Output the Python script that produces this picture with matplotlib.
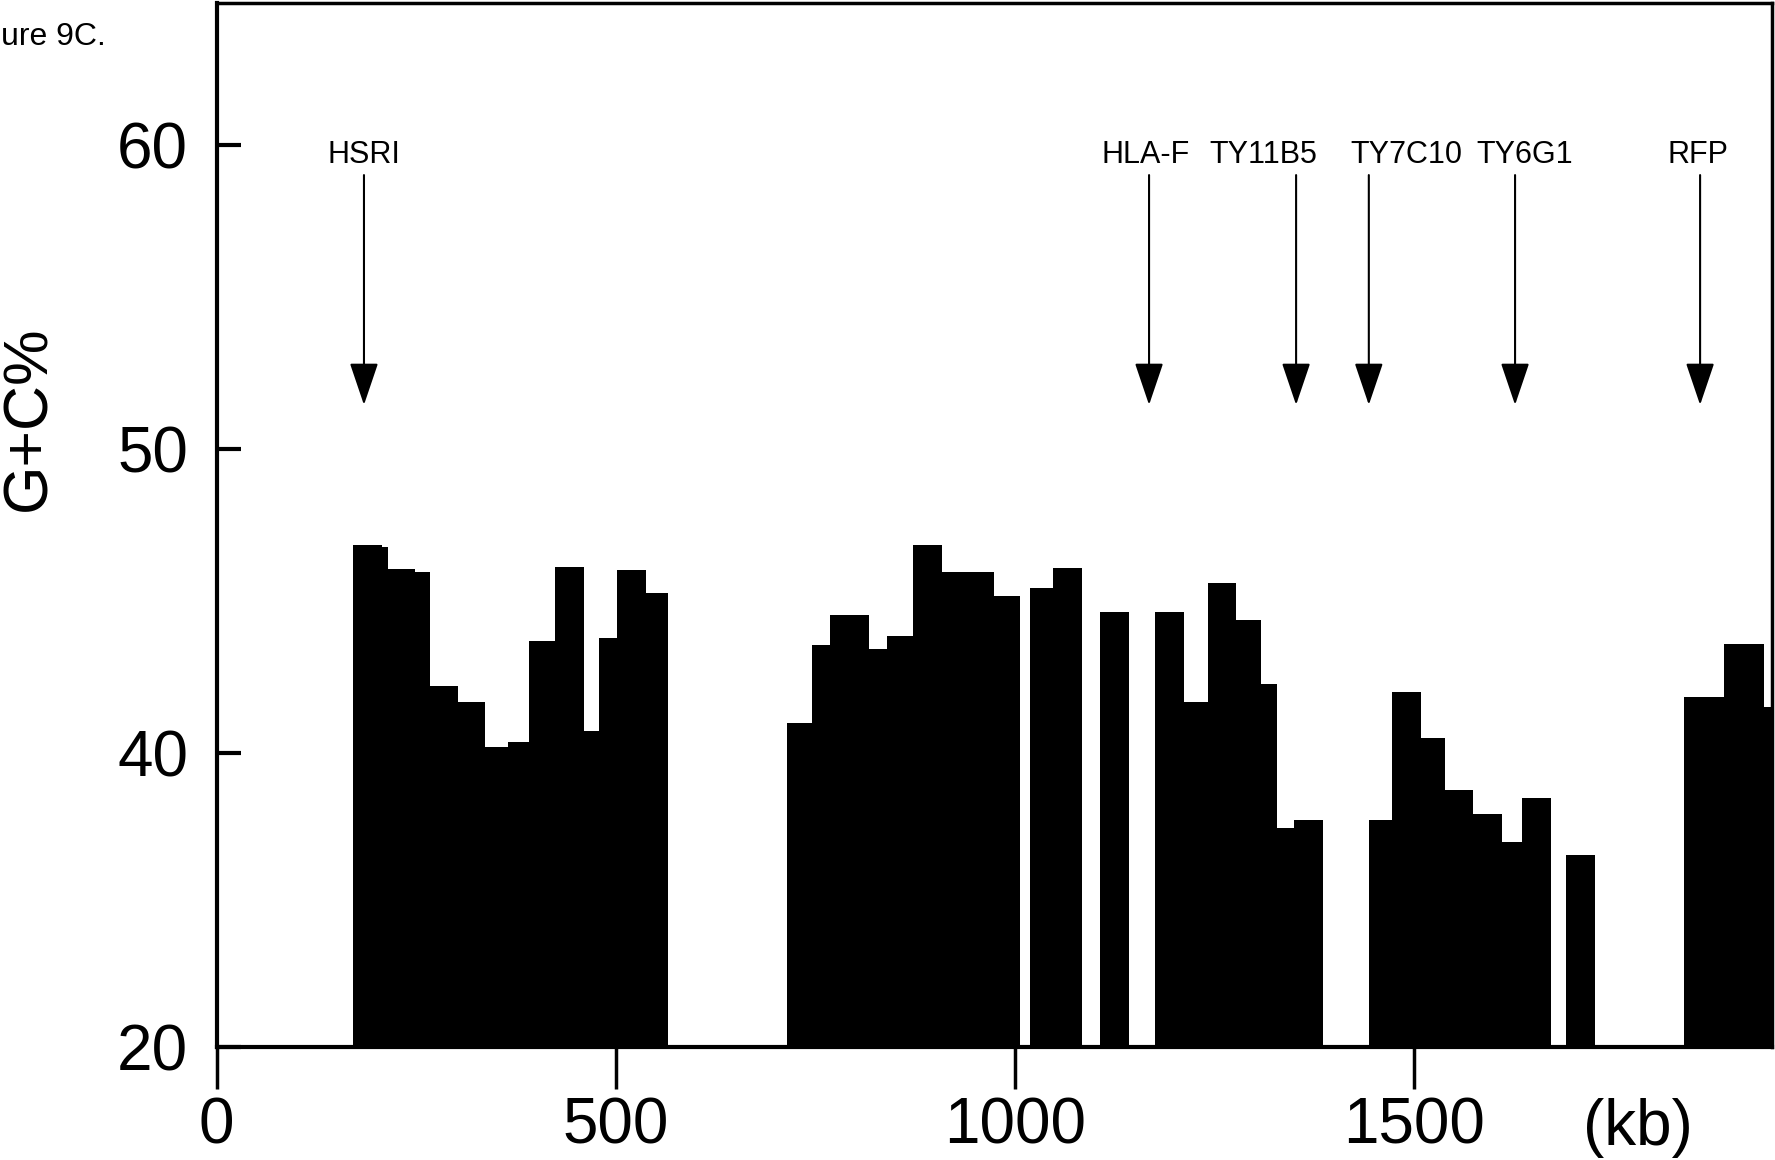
import matplotlib
matplotlib.use('Agg')
import matplotlib.pyplot as plt
import numpy as np

plt.rcParams['font.family'] = ['Liberation Sans', 'DejaVu Sans']

# G+C CONTENT PER CONTIG (kb)
binStart = [170.4, 206.7, 215.0, 248.5, 267.2, 302.7, 336.1, 365.3, 391.6, 423.9,
            460.5, 479.4, 501.8, 537.8,
            714.8, 745.5, 768.3, 817.2, 839.4, 872.0, 908.3, 973.8,
            1018.9, 1048.1, 1106.7,
            1175.5, 1212.2, 1241.3, 1277.5, 1307.7, 1327.7, 1349.2,
            1443.6, 1472.2, 1508.6, 1538.5, 1573.9, 1609.9, 1634.7,
            1690.2, 1837.6, 1887.7, 1938.1]
binEnd = [206.7, 215.0, 248.5, 267.2, 302.7, 336.1, 365.3, 391.6, 423.9, 460.5,
          479.4, 501.8, 537.8, 565.0,
          745.5, 768.3, 817.2, 839.4, 872.0, 908.3, 973.8, 1006.4,
          1048.1, 1084.4, 1142.9,
          1212.2, 1241.3, 1277.5, 1307.7, 1327.7, 1349.2, 1385.8,
          1472.2, 1508.6, 1538.5, 1573.9, 1609.9, 1634.7, 1671.0,
          1726.5, 1887.7, 1938.1, 1960.0]
gcContent = [46.84, 46.79, 46.04, 45.96, 42.20, 41.69, 40.21, 40.35, 43.69, 46.11,
             40.73, 43.79, 46.02, 45.25,
             40.98, 43.55, 44.54, 43.41, 43.86, 46.84, 45.94, 45.15,
             45.44, 46.10, 44.63,
             44.63, 41.67, 45.60, 44.38, 42.27, 37.53, 37.81,
             37.81, 42.00, 40.51, 38.79, 37.98, 37.08, 38.51,
             36.63, 41.85, 43.59, 41.51]

# MARKERS
markerNames = ['HSRI', 'HLA-F', 'TY11B5', 'TY7C10', 'TY6G1', 'RFP']
markerPos = [184.5, 1168.0, 1352.2, 1443.3, 1626.5, 1858.3]
labelPos = [184.5, 1164.0, 1310.8, 1490.9, 1639.1, 1855.8]

xTicks = [0, 500, 1000, 1500]
yTicks = [40, 50, 60]
yBottom = 30.34
yTop = 64.66
xRight = 1948

fig = plt.figure(figsize=(17.75, 11.6), dpi=100)
ax = fig.add_axes([0.12208, 0.09767, 0.87606, 0.89949])

left = np.array(binStart)
width = np.array(binEnd) - left
height = np.array(gcContent) - yBottom
ax.bar(left, height, width=width, bottom=yBottom, align='edge',
       color='black', linewidth=0)

# arrows and names of the markers
for name, mPos, lPos in zip(markerNames, markerPos, labelPos):
    ax.text(lPos, 59.41, name, ha='center', va='baseline', fontsize=22)
    ax.annotate('', xy=(mPos, 51.45), xytext=(mPos, 59.01),
                arrowprops=dict(arrowstyle='-|>,head_length=1.33,head_width=0.45',
                                color='black', lw=1.5, shrinkA=0, shrinkB=0,
                                mutation_scale=20))

ax.set_xlim(0, xRight)
ax.set_ylim(yBottom, yTop)

ax.set_xticks(xTicks)
ax.set_xticklabels([str(t) for t in xTicks])
ax.set_yticks([yBottom] + yTicks)
ax.set_yticklabels(['20'] + [str(t) for t in yTicks])

ax.tick_params(axis='x', direction='out', length=30, width=2.5, pad=6, labelsize=46)
ax.tick_params(axis='y', direction='in', length=17, width=3, pad=20.5, labelsize=46)

for side in ['left', 'bottom']:
    ax.spines[side].set_linewidth(3)
for side in ['top', 'right']:
    ax.spines[side].set_linewidth(2.5)

fig.text(29 / 1775, 1 - 418 / 1160, 'G+C%', rotation=90, ha='center', va='center', fontsize=45)
fig.text(1637.5 / 1775, 1 - 1145 / 1160, '(kb)', ha='center', va='baseline', fontsize=46)
fig.text(1 / 1775, 1 - 45 / 1160, 'ure 9C.', ha='left', va='baseline', fontsize=23)

fig.savefig('out.png', dpi=100)
